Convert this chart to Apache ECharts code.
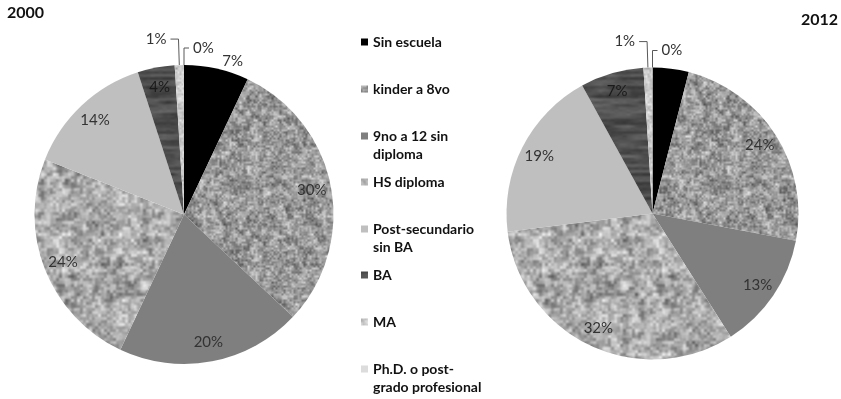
<!DOCTYPE html>
<html>
<head>
<meta charset="utf-8">
<script src="https://cdn.jsdelivr.net/npm/echarts@6/dist/echarts.min.js"></script>
<style>
  html, body { margin: 0; padding: 0; background: #ffffff; }
  #chart { width: 841px; height: 399px; }
</style>
</head>
<body>
<div id="chart"></div>
<script>
// ---- data ----
const categories = [
  'Sin escuela',
  'kinder a 8vo',
  '9no a 12 sin diploma',
  'HS diploma',
  'Post-secundario sin BA',
  'BA',
  'MA',
  'Ph.D. o post-grado profesional'
];
const legendLabels = [
  'Sin escuela',
  'kinder a 8vo',
  '9no a 12 sin\ndiploma',
  'HS diploma',
  'Post-secundario\nsin BA',
  'BA',
  'MA',
  'Ph.D. o post-\ngrado profesional'
];
const years = ['2000', '2012'];
const values2000 = [7, 30, 20, 24, 14, 4, 1, 0];
const values2012 = [4, 24, 13, 32, 19, 7, 1, 0];

// ---- texture helpers (deterministic hash-based value noise) ----
function hash(x, y, s) {
  let h = (Math.imul(x, 374761393) + Math.imul(y, 668265263) + Math.imul(s, 1442695041)) | 0;
  h = Math.imul(h ^ (h >>> 13), 1274126177);
  h = h ^ (h >>> 16);
  return (h >>> 0) / 4294967296;
}
// tileable value noise with separate cell sizes / periods per axis
function noise(x, y, cx, cy, px, py, seed) {
  const gx = x / cx, gy = y / cy;
  const x0 = Math.floor(gx), y0 = Math.floor(gy);
  let fx = gx - x0, fy = gy - y0;
  fx = fx * fx * (3 - 2 * fx); fy = fy * fy * (3 - 2 * fy);
  const wx = (v) => ((v % px) + px) % px;
  const wy = (v) => ((v % py) + py) % py;
  const a = hash(wx(x0), wy(y0), seed), b = hash(wx(x0 + 1), wy(y0), seed);
  const c = hash(wx(x0), wy(y0 + 1), seed), d = hash(wx(x0 + 1), wy(y0 + 1), seed);
  return (a * (1 - fx) + b * fx) * (1 - fy) + (c * (1 - fx) + d * fx) * fy;
}
function texture(size, base, amp, octaves, seed) {
  const cv = document.createElement('canvas');
  cv.width = size; cv.height = size;
  const ctx = cv.getContext('2d');
  const img = ctx.createImageData(size, size);
  let wsum = 0; octaves.forEach(o => { wsum += o[2]; });
  for (let y = 0; y < size; y++) {
    for (let x = 0; x < size; x++) {
      let n = 0;
      octaves.forEach((o, k) => {
        n += noise(x, y, o[0], o[1], size / o[0], size / o[1], seed + k * 17) * o[2];
      });
      n = n / wsum - 0.5;
      const v = Math.max(0, Math.min(255, Math.round(base + n * amp * 2)));
      const i = (y * size + x) * 4;
      img.data[i] = img.data[i + 1] = img.data[i + 2] = v;
      img.data[i + 3] = 255;
    }
  }
  ctx.putImageData(img, 0, 0);
  return { image: cv, repeat: 'repeat' };
}

// fills, one per category
const fills = [
  '#000000',
  texture(120, 152, 80, [[2, 2, 1], [4, 4, 1], [8, 8, 0.5]], 11),
  '#7f7f7f',
  texture(120, 168, 85, [[3, 3, 1], [6, 6, 1], [12, 12, 0.7]], 29),
  '#bfbfbf',
  texture(96, 80, 32, [[24, 3, 1], [12, 6, 0.6], [4, 2, 0.25]], 41),
  texture(120, 200, 40, [[2, 2, 1], [4, 4, 1]], 53),
  '#dcdcdc'
];

// ---- label arrangement ----
const outsideLabels = {
  '2000': ['Sin escuela', 'MA', 'Ph.D. o post-grado profesional'],
  '2012': ['MA', 'Ph.D. o post-grado profesional']
};
const hiddenLabels = { '2000': [], '2012': ['Sin escuela'] };
const darkLabelColor = { 'BA': '#1a1a1a' };
const outsideLine = {
  'Sin escuela': { show: false, length: 8, length2: 0 },
  'MA': { show: true, length: 26, length2: 8 },
  'Ph.D. o post-grado profesional': { show: true, length: 17, length2: 5 }
};

const pies = [
  { year: '2000', values: values2000, center: [184, 214.5], r: 149.5 },
  { year: '2012', values: values2012, center: [652.5, 213.5], r: 146 }
];

const labelFont = { fontFamily: 'Lato', fontSize: 15, color: '#333333' };

const series = [];
pies.forEach((p) => {
  const outside = outsideLabels[p.year];
  const hidden = hiddenLabels[p.year];
  // sectors, with the outside labels and their leader lines
  series.push({
    type: 'pie',
    name: p.year,
    center: p.center,
    radius: [0, p.r],
    startAngle: 90,
    clockwise: true,
    avoidLabelOverlap: false,
    animation: false,
    emphasis: { disabled: true },
    label: Object.assign({ position: 'outside', formatter: '{c}%', distanceToLabelLine: 4 }, labelFont),
    labelLine: { lineStyle: { color: '#595959', width: 1 }, smooth: false },
    itemStyle: { borderWidth: 0 },
    data: categories.map((name, i) => {
      const isOut = outside.indexOf(name) >= 0;
      const item = {
        name: name,
        value: p.values[i],
        itemStyle: { color: fills[i] },
        label: { show: isOut }
      };
      if (isOut) {
        const ll = outsideLine[name];
        item.labelLine = { show: ll.show, length: ll.length, length2: ll.length2 };
        if (ll.show) item.label.padding = [0, 0, 8, 0];
      } else {
        item.labelLine = { show: false };
      }
      return item;
    }),
    labelLayout: function (params) {
      // put the zero-share label on the right of its leader line
      if (categories[params.dataIndex] !== 'Ph.D. o post-grado profesional' || !params.labelLinePoints) return {};
      const pts = params.labelLinePoints;
      const x2 = pts[1][0], x3 = pts[2][0];
      const x3m = 2 * x2 - x3;
      const gap = x3 - (params.labelRect.x + params.labelRect.width);
      return {
        dx: x3m + gap - params.labelRect.x,
        labelLinePoints: [pts[0], pts[1], [x3m, pts[2][1]]]
      };
    }
  });
  // transparent ring carrying the inside percentage labels
  series.push({
    type: 'pie',
    name: p.year + ' labels',
    center: p.center,
    radius: [p.r * 0.7, p.r],
    startAngle: 90,
    clockwise: true,
    silent: true,
    animation: false,
    tooltip: { show: false },
    itemStyle: { color: 'rgba(0,0,0,0)', borderWidth: 0 },
    label: Object.assign({ position: 'inside', formatter: '{c}%' }, labelFont),
    labelLine: { show: false },
    data: categories.map((name, i) => {
      const label = { show: outside.indexOf(name) < 0 && hidden.indexOf(name) < 0 };
      if (darkLabelColor[name]) label.color = darkLabelColor[name];
      return { name: name, value: p.values[i], label: label };
    })
  });
});

// one legend block per category, stacked down the middle
const legendCenters = [42, 89, 136, 182, 229, 275, 322, 369];
const legends = categories.map((name, i) => {
  const twoLines = legendLabels[i].indexOf('\n') >= 0;
  return {
    left: 361,
    top: legendCenters[i] - 9,
    orient: 'vertical',
    padding: 0,
    itemGap: 0,
    itemWidth: 7,
    itemHeight: twoLines ? 25 : 7,
    icon: twoLines ? 'path://M0,0H7V7H0ZM0,24.99H0.01V25H0Z' : 'rect',
    data: [name],
    formatter: () => legendLabels[i],
    textStyle: { fontFamily: 'Lato', fontWeight: 'bold', fontSize: 14, color: '#111111', lineHeight: 18 }
  };
});

const chart = echarts.init(document.getElementById('chart'), null, { renderer: 'canvas' });
chart.setOption({
  backgroundColor: '#ffffff',
  animation: false,
  title: [
    { text: years[0], left: 7, top: 5, padding: 0, textStyle: { fontFamily: 'Lato', fontWeight: 'bold', fontSize: 16, color: '#111111' } },
    { text: years[1], right: 3, top: 12, padding: 0, textStyle: { fontFamily: 'Lato', fontWeight: 'bold', fontSize: 16, color: '#111111' } }
  ],
  legend: legends,
  series: series
});
</script>
</body>
</html>
